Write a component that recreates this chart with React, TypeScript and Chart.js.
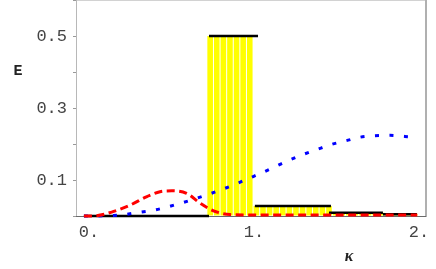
import React, { useEffect, useRef } from 'react';
import { Chart, registerables } from 'chart.js';
Chart.register(...registerables);

// Histogram bars (yellow)
const barK = [0.765, 0.805, 0.845, 0.885, 0.925, 0.965, 1.005, 1.045, 1.085, 1.125, 1.165, 1.205, 1.245, 1.285, 1.325, 1.365, 1.405, 1.445, 1.485, 1.525, 1.565, 1.605, 1.645, 1.685, 1.725, 1.765, 1.805, 1.845, 1.885, 1.925, 1.965, 2.005];
const barE = [0.5, 0.5, 0.5, 0.5, 0.5, 0.5, 0.5, 0.028, 0.028, 0.028, 0.028, 0.028, 0.028, 0.028, 0.028, 0.028, 0.028, 0.028, 0.028, 0.009, 0.009, 0.009, 0.009, 0.009, 0.009, 0.009, 0.009, 0.005, 0.005, 0.005, 0.005, 0.005];

// Black step segments: start, end, level
const stepStart = [0, 0.758, 1.036, 1.485, 1.812];
const stepEnd = [0.758, 1.055, 1.497, 1.812, 2.018];
const stepE = [0, 0.5, 0.028, 0.009, 0.005];

// Red dashed curve
const redK = [0, 0.077, 0.176, 0.279, 0.382, 0.461, 0.533, 0.622, 0.703, 0.782, 0.885, 1.0, 1.5, 2.02];
const redE = [0, 0.001, 0.012, 0.03, 0.054, 0.0675, 0.07, 0.063, 0.036, 0.015, 0.004, 0.003, 0.003, 0.003];

// Blue dotted curve
const blueK = [0, 0.047, 0.138, 0.228, 0.319, 0.41, 0.497, 0.582, 0.662, 0.753, 0.838, 0.921, 1.002, 1.083, 1.168, 1.248, 1.329, 1.414, 1.501, 1.588, 1.675, 1.764, 1.855, 1.945, 1.97];
const blueE = [0, 0, 0.001, 0.003, 0.009, 0.015, 0.024, 0.035, 0.046, 0.06, 0.074, 0.089, 0.105, 0.121, 0.139, 0.156, 0.171, 0.185, 0.199, 0.209, 0.219, 0.223, 0.224, 0.221, 0.22];

const xTicks = [0, 1, 2];
const xTickLabels = ['0.', '1.', '2.'];
const yLabeled = [0.1, 0.3, 0.5];

const framePlugin = {
  id: 'frame',
  beforeDatasetsDraw(chart: any) {
    const { ctx, chartArea } = chart;
    const { left, right, top, bottom } = chartArea;
    ctx.save();
    ctx.lineWidth = 1;
    ctx.strokeStyle = '#d2d2d2';
    ctx.beginPath(); ctx.moveTo(left, top + 0.5); ctx.lineTo(right, top + 0.5); ctx.stroke();
    ctx.strokeStyle = '#b8b8b8';
    ctx.beginPath(); ctx.moveTo(left + 0.5, top); ctx.lineTo(left + 0.5, bottom); ctx.stroke();
    ctx.lineWidth = 2;
    ctx.strokeStyle = '#b0b0b0';
    ctx.beginPath(); ctx.moveTo(right, top); ctx.lineTo(right, bottom + 1); ctx.stroke();
    ctx.lineWidth = 1;
    ctx.strokeStyle = '#6a6a6a';
    ctx.beginPath(); ctx.moveTo(left, bottom + 0.5); ctx.lineTo(right, bottom + 0.5); ctx.stroke();
    ctx.restore();
  },
  afterDraw(chart: any) {
    const { ctx } = chart;
    ctx.save();
    ctx.fillStyle = '#222';
    ctx.textAlign = 'center';
    ctx.textBaseline = 'middle';
    ctx.font = "bold 15px 'Liberation Mono'";
    ctx.fillText('E', 18, 71);
    ctx.font = "italic bold 16px 'Liberation Serif'";
    ctx.fillText('κ', 349, 257);
    ctx.restore();
  },
};

export default function App() {
  const ref = useRef<HTMLCanvasElement | null>(null);
  useEffect(() => {
    if (!ref.current) return;
    const stepSets = stepE.map((e, i) => ({
      type: 'line' as const,
      data: [{ x: stepStart[i], y: e }, { x: stepEnd[i], y: e }],
      borderColor: '#000',
      borderWidth: 2.5,
      pointRadius: 0,
      clip: 4,
      order: 3,
    }));
    const chart = new Chart(ref.current, {
      type: 'bar',
      data: {
        datasets: [
          {
            type: 'bar',
            data: barK.map((k, i) => ({ x: k, y: barE[i] })),
            backgroundColor: '#ffff00',
            borderWidth: 0,
            barPercentage: 0.85,
            categoryPercentage: 1,
            grouped: false,
            order: 10,
          } as any,
          ...stepSets,
          {
            type: 'line',
            data: blueK.map((k, i) => ({ x: k, y: blueE[i] })),
            borderColor: '#0000ff',
            borderWidth: 3,
            borderDash: [4, 10.5],
            pointRadius: 0,
            cubicInterpolationMode: 'monotone',
            clip: 4,
            order: 2,
          } as any,
          {
            type: 'line',
            data: redK.map((k, i) => ({ x: k, y: redE[i] })),
            borderColor: '#ff0000',
            borderWidth: 3,
            borderDash: [8, 4.5],
            pointRadius: 0,
            cubicInterpolationMode: 'monotone',
            clip: 4,
            order: 1,
          } as any,
        ],
      },
      options: {
        responsive: false,
        animation: false,
        devicePixelRatio: 1,
        layout: { padding: { top: 0, right: 10, left: 0, bottom: 0 } },
        plugins: { legend: { display: false }, tooltip: { enabled: false } },
        scales: {
          x: {
            type: 'linear',
            min: -0.048,
            max: 2.073,
            offset: false,
            grid: { display: false, drawTicks: false },
            border: { display: false },
            afterBuildTicks: (s: any) => { s.ticks = xTicks.map((v) => ({ value: v })); },
            afterFit: (s: any) => { s.height = 53; s.paddingLeft = 0; s.paddingRight = 0; },
            ticks: {
              callback: (v: any) => { const i = xTicks.indexOf(Math.round(Number(v))); return i >= 0 ? xTickLabels[i] : ''; },
              font: { family: 'Liberation Mono', size: 17 },
              color: '#444',
              padding: 6,
              labelOffset: 5,
              maxRotation: 0,
              autoSkip: false,
            },
          },
          y: {
            type: 'linear',
            min: 0,
            max: 0.6,
            grid: { display: true, drawOnChartArea: false, drawTicks: true, tickLength: 3, color: '#999' },
            border: { display: false },
            afterFit: (s: any) => { s.width = 76; s.paddingTop = 0; s.paddingBottom = 0; },
            ticks: {
              stepSize: 0.1,
              callback: (v: any) => { const r = Math.round(Number(v) * 10) / 10; return yLabeled.includes(r) ? r.toFixed(1) : ''; },
              font: { family: 'Liberation Mono', size: 17 },
              color: '#444',
              padding: 6,
            },
          },
        },
      },
      plugins: [framePlugin],
    } as any);
    return () => chart.destroy();
  }, []);
  return (
    <div style={{ position: 'absolute', left: 0, top: 0, width: 436, height: 269, background: '#fff' }}>
      <canvas ref={ref} width={436} height={269} style={{ display: 'block', width: 436, height: 269 }} />
    </div>
  );
}
